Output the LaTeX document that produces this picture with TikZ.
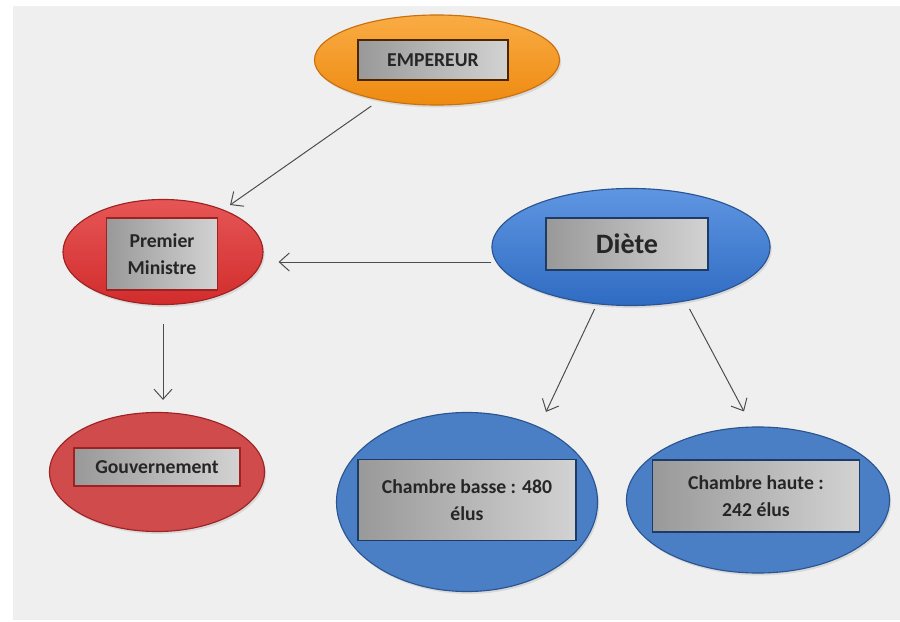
\documentclass[tikz,border=0pt]{standalone}
\usepackage{fontspec}
\setmainfont{Carlito}
\usetikzlibrary{arrows.meta, calc, shapes.geometric, shadows}
\definecolor{orangetop}{HTML}{F9AC44}
\definecolor{orangebot}{HTML}{EE8A10}
\definecolor{orangeline}{HTML}{C8700E}
\definecolor{redtop}{HTML}{E65656}
\definecolor{redbot}{HTML}{D22C2C}
\definecolor{redline}{HTML}{9E2222}
\definecolor{redflat}{HTML}{D04B4B}
\definecolor{bluetop}{HTML}{5F96E2}
\definecolor{bluebot}{HTML}{2F6BC2}
\definecolor{blueflat}{HTML}{4A7FC6}
\definecolor{blueline}{HTML}{2A5490}
\definecolor{panel}{HTML}{EFEFEF}

\begin{document}
\begin{tikzpicture}[x=0.025cm, y=-0.025cm, oval/.style={ellipse, draw, line width=0.8pt, inner sep=0pt, drop shadow={opacity=0.2, shadow xshift=0.04cm, shadow yshift=-0.06cm}}, box/.style={rectangle, draw, line width=0.9pt, left color=gray!80, right color=gray!35, align=center, font=\fontsize{14}{19}\selectfont\bfseries, text=black!85, inner sep=0pt}, arrow/.style={-{Straight Barb[length=2.5mm, width=4.5mm]}, line width=0.7pt, draw=black!70}]
\fill[white] (0,0) rectangle (900,622);
\fill[panel] (13,6) rectangle (900,620);
% ellipses
\node[oval, draw=orangeline, top color=orangetop, bottom color=orangebot, minimum width=6.125cm, minimum height=2.25cm] (emp) at (437,60) {};
\node[oval, draw=redline, top color=redtop, bottom color=redbot, minimum width=5cm, minimum height=2.625cm] (pm) at (163,252) {};
\node[oval, draw=blueline, top color=bluetop, bottom color=bluebot, minimum width=6.95cm, minimum height=2.925cm] (diete) at (631,247) {};
\node[oval, draw=redline, fill=redflat, minimum width=5.375cm, minimum height=2.975cm] (gouv) at (157,472) {};
\node[oval, draw=blueline, fill=blueflat, minimum width=6.525cm, minimum height=4.475cm] (basse) at (467,502) {};
\node[oval, draw=blueline, fill=blueflat, minimum width=6.575cm, minimum height=3.65cm] (haute) at (758,500) {};
% boxes
\node[box, draw=black!70!orange, minimum width=3.75cm, minimum height=1cm] (empbox) at (433,60) {EMPEREUR};
\node[box, draw=redline, minimum width=2.775cm, minimum height=1.8cm] (pmbox) at (162,254) {Premier\\Ministre};
\node[box, draw=blueline!70!black, minimum width=4.05cm, minimum height=1.3cm, font=\fontsize{20}{24}\selectfont\bfseries] (dietebox) at (627,244) {Diète};
\node[box, draw=redline, minimum width=4.15cm, minimum height=0.95cm] (gouvbox) at (157,467) {Gouvernement};
\node[box, draw=blueline!70!black, minimum width=5.45cm, minimum height=2.025cm] (bassebox) at (467,500) {Chambre basse : 480\\élus};
\node[box, draw=blueline!70!black, minimum width=5.175cm, minimum height=1.8cm] (hautebox) at (756,496) {Chambre haute :\\242 élus};
% arrows
\draw[arrow, shorten <=0.25cm, shorten >=0.2cm] (emp) -- (pm);
\draw[arrow] ($(diete.west)+(0,15)$) -- ($(pm.east)+(15,10)$);
\draw[arrow, shorten <=0.475cm, shorten >=0.3cm] (pm.south) -- (pm.south |- gouv.north);
\draw[arrow, shorten <=0.08cm] ($(diete.south)+(-35,0)$) -- ($(basse.north)+(79,0)$);
\draw[arrow, shorten <=0.08cm] ($(diete.south)+(57,0)$) -- ($(haute.north)+(-14,-15)$);
\end{tikzpicture}
\end{document}
